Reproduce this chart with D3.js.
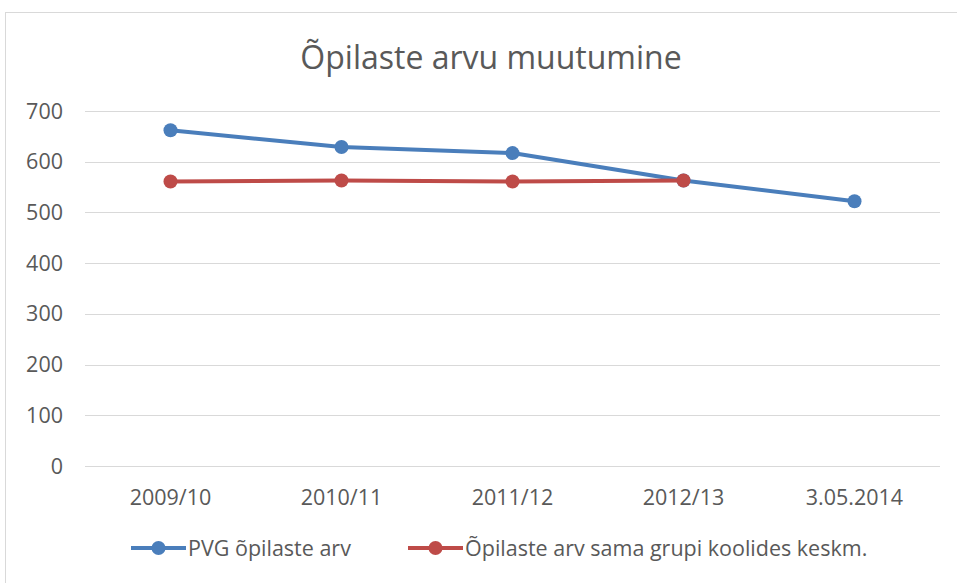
<!DOCTYPE html>
<html>
<head>
<meta charset="utf-8">
<script src="https://cdn.jsdelivr.net/npm/d3@7"></script>
<style>
  body { margin: 0; background: #fff; }
  svg text { font-family: "Open Sans", sans-serif; fill: #595959; }
</style>
</head>
<body>
<svg id="chart" width="957" height="583"></svg>
<script>
// Chart data
const categories = ["2009/10", "2010/11", "2011/12", "2012/13", "3.05.2014"];
const pvgValues = [662, 629, 617, 563, 522];
const groupAvgValues = [561, 563, 561, 563];
const yTicks = [0, 100, 200, 300, 400, 500, 600, 700];

const seriesList = [
  { name: "PVG õpilaste arv", values: pvgValues, color: "#4a7ebb" },
  { name: "Õpilaste arv sama grupi koolides keskm.", values: groupAvgValues, color: "#be4b48" }
];

const svg = d3.select("#chart");
const width = 957, height = 583;
const margin = { top: 111, right: 17, bottom: 117, left: 85 };
const fontSize = "21.5px";

// chart area border
svg.append("rect")
  .attr("x", 5.5).attr("y", 12.5)
  .attr("width", width + 10).attr("height", height + 10)
  .attr("fill", "none")
  .attr("stroke", "#d9d9d9");

svg.append("text")
  .attr("x", 491).attr("y", 69)
  .attr("text-anchor", "middle")
  .style("font-size", "32px")
  .text("Õpilaste arvu muutumine");

const x = d3.scaleBand()
  .domain(categories)
  .range([margin.left, width - margin.right]);

const y = d3.scaleLinear()
  .domain([0, 700])
  .range([height - margin.bottom, margin.top]);

// gridlines
svg.append("g")
  .selectAll("line")
  .data(yTicks)
  .join("line")
  .attr("x1", margin.left).attr("x2", width - margin.right)
  .attr("y1", d => Math.round(y(d)) + 0.5)
  .attr("y2", d => Math.round(y(d)) + 0.5)
  .attr("stroke", "#d9d9d9")
  .attr("stroke-width", 1);

// y labels
svg.append("g")
  .selectAll("text")
  .data(yTicks)
  .join("text")
  .attr("x", 63)
  .attr("y", d => y(d))
  .attr("dy", "0.35em")
  .attr("text-anchor", "end")
  .style("font-size", fontSize)
  .text(d => d);

// x labels
svg.append("g")
  .selectAll("text")
  .data(categories)
  .join("text")
  .attr("x", d => x(d) + x.bandwidth() / 2)
  .attr("y", 497)
  .attr("dy", "0.35em")
  .attr("text-anchor", "middle")
  .style("font-size", fontSize)
  .text(d => d);

const line = d3.line()
  .x((d, i) => x(categories[i]) + x.bandwidth() / 2)
  .y(d => y(d));

seriesList.forEach(s => {
  const g = svg.append("g");
  g.append("path")
    .datum(s.values)
    .attr("d", line)
    .attr("fill", "none")
    .attr("stroke", s.color)
    .attr("stroke-width", 4)
    .attr("stroke-linejoin", "round")
    .attr("stroke-linecap", "round");
  g.selectAll("circle")
    .data(s.values)
    .join("circle")
    .attr("cx", (d, i) => x(categories[i]) + x.bandwidth() / 2)
    .attr("cy", d => y(d))
    .attr("r", 7)
    .attr("fill", s.color);
});

// legend
const legendX = [131, 408];
const legend = svg.append("g")
  .selectAll("g")
  .data(seriesList)
  .join("g")
  .attr("transform", (d, i) => `translate(${legendX[i]},548)`);

legend.append("line")
  .attr("x1", 0).attr("x2", 55)
  .attr("stroke", d => d.color)
  .attr("stroke-width", 4);
legend.append("circle")
  .attr("cx", 27.5).attr("r", 7)
  .attr("fill", d => d.color);
legend.append("text")
  .attr("x", 57)
  .attr("dy", "0.35em")
  .style("font-size", fontSize)
  .text(d => d.name);
</script>
</body>
</html>
